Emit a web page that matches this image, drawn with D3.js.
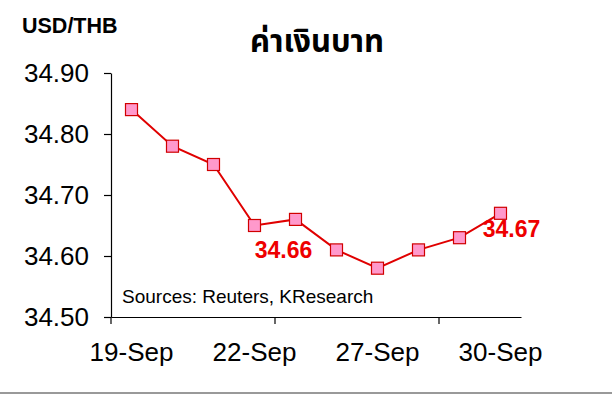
<!DOCTYPE html>
<html>
<head>
<meta charset="utf-8">
<script src="https://cdn.jsdelivr.net/npm/d3@7"></script>
<style>
  body { margin: 0; background: #fff; }
  svg { display: block; font-family: "Liberation Sans", Arial, sans-serif; }
</style>
</head>
<body>
<div class="chart_area"></div>
<script>
var dates = ["19-Sep", "20-Sep", "21-Sep", "22-Sep", "23-Sep", "26-Sep", "27-Sep", "28-Sep", "29-Sep", "30-Sep"];
var rates = [34.84, 34.78, 34.75, 34.65, 34.66, 34.61, 34.58, 34.61, 34.63, 34.67];
var yTicks = [34.50, 34.60, 34.70, 34.80, 34.90];
var xLabels = ["19-Sep", "22-Sep", "27-Sep", "30-Sep"];
var xTickMarks = ["19-Sep", "23-Sep", "29-Sep"];
var callouts = [{date: "23-Sep", value: 34.66}, {date: "30-Sep", value: 34.67}];

var W = 612, H = 394;

var svg = d3.select(".chart_area")
  .append("svg")
  .attr("width", W)
  .attr("height", H);

var x = d3.scaleBand()
    .domain(dates)
    .range([111, 521]);

var y = d3.scaleLinear()
    .domain([34.50, 34.90])
    .range([317, 73]);

var cx = function(d) { return x(d) + x.bandwidth() / 2; };

// y axis
var yAxis = svg.append("g")
    .attr("transform", "translate(111,0)")
    .call(d3.axisLeft(y).tickValues(yTicks).tickFormat(d3.format(".2f")).tickSize(7).tickSizeOuter(0).tickPadding(15));
yAxis.select(".domain").attr("stroke", "#000").attr("stroke-width", 1.2);
yAxis.selectAll(".tick line").attr("stroke", "#000").attr("stroke-width", 1.2);
yAxis.selectAll("text")
    .attr("fill", "#000")
    .style("font-size", "26px")
    .style("font-family", "'Liberation Sans', Arial, sans-serif");

// x axis: labels every 3 categories, tick marks every 4
var xAxis = svg.append("g")
    .attr("transform", "translate(0,317)")
    .call(d3.axisBottom(x).tickValues(xLabels).tickSize(0).tickSizeOuter(0).tickPadding(26));
xAxis.select(".domain").attr("stroke", "#000").attr("stroke-width", 1.2);
xAxis.selectAll("text")
    .attr("fill", "#000")
    .style("font-size", "26px")
    .style("font-family", "'Liberation Sans', Arial, sans-serif");

svg.append("g").selectAll("line")
    .data(xTickMarks)
    .enter()
    .append("line")
      .attr("x1", function(d) { return x(d); })
      .attr("x2", function(d) { return x(d); })
      .attr("y1", 317)
      .attr("y2", 324)
      .attr("stroke", "#000")
      .attr("stroke-width", 1.2);

// line + markers
var line = d3.line()
    .x(function(d, i) { return cx(dates[i]); })
    .y(function(d) { return y(d); });

svg.append("path")
    .datum(rates)
    .attr("d", line)
    .attr("fill", "none")
    .attr("stroke", "#e00000")
    .attr("stroke-width", 2);

svg.selectAll("rect.pt")
    .data(rates)
    .enter()
    .append("rect")
      .attr("class", "pt")
      .attr("x", function(d, i) { return cx(dates[i]) - 6; })
      .attr("y", function(d) { return y(d) - 6; })
      .attr("width", 12)
      .attr("height", 12)
      .attr("fill", "#ff99cc")
      .attr("stroke", "#d00000")
      .attr("stroke-width", 1.2);

// value callouts
svg.selectAll("text.callout")
    .data(callouts)
    .enter()
    .append("text")
      .attr("class", "callout")
      .attr("x", function(d, i) { return cx(d.date) + (i == 0 ? -12 : 11); })
      .attr("y", function(d, i) { return y(d.value) + (i == 0 ? 39 : 24); })
      .attr("text-anchor", "middle")
      .attr("fill", "#ee0000")
      .style("font-weight", "bold")
      .style("font-size", "23px")
      .text(function(d) { return d.value.toFixed(2); });

// texts
svg.append("text")
    .attr("x", 22)
    .attr("y", 33)
    .style("font-weight", "bold")
    .style("font-size", "21.5px")
    .text("USD/THB");

svg.append("text")
    .attr("x", 317)
    .attr("y", 52)
    .attr("text-anchor", "middle")
    .style("font-weight", "bold")
    .style("font-size", "31px")
    .style("font-family", "'Noto Sans Thai', 'Noto Sans', 'DejaVu Sans', sans-serif")
    .text("ค่าเงินบาท");

svg.append("text")
    .attr("x", 122)
    .attr("y", 303)
    .style("font-size", "19px")
    .text("Sources: Reuters, KResearch");

// bottom frame line
svg.append("line")
    .attr("x1", 0).attr("x2", W)
    .attr("y1", H - 1).attr("y2", H - 1)
    .attr("stroke", "#999")
    .attr("stroke-width", 2);
</script>
</body>
</html>
